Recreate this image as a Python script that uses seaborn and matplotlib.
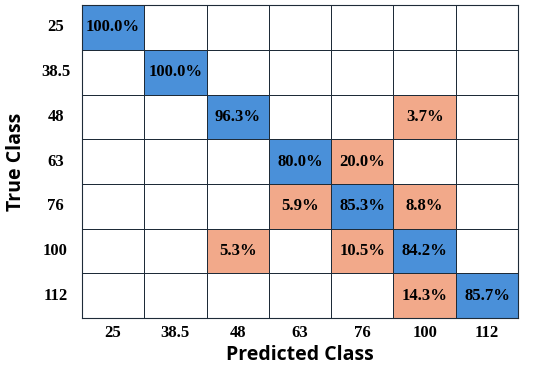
import numpy as np
import pandas as pd
import matplotlib.pyplot as plt
import seaborn as sns
from matplotlib.colors import ListedColormap

# Class labels (true rows, predicted columns)
classes = ['25', '38.5', '48', '63', '76', '100', '112']

# Percentages per row (0 = empty cell)
row_25 = [100.0, 0, 0, 0, 0, 0, 0]
row_38 = [0, 100.0, 0, 0, 0, 0, 0]
row_48 = [0, 0, 96.3, 0, 0, 3.7, 0]
row_63 = [0, 0, 0, 80.0, 20.0, 0, 0]
row_76 = [0, 0, 0, 5.9, 85.3, 8.8, 0]
row_100 = [0, 0, 5.3, 0, 10.5, 84.2, 0]
row_112 = [0, 0, 0, 0, 0, 14.3, 85.7]

cm = pd.DataFrame([row_25, row_38, row_48, row_63, row_76, row_100, row_112],
                  index=classes, columns=classes)

# colour category: 0 empty, 1 correct (diagonal), 2 misclassified
vals = cm.values
cat = np.where(vals == 0, 0, 2)
np.fill_diagonal(cat, np.where(np.diag(vals) > 0, 1, 0))
annot = np.where(vals > 0, np.char.add(np.char.mod('%.1f', vals), '%'), '')

cmap = ListedColormap(['white', '#4a90d9', '#f2a98a'])

fig = plt.figure(figsize=(5.5, 3.66), dpi=100)
ax = fig.add_axes([0.149, 0.131, 0.793, 0.855])
sns.heatmap(cat, cmap=cmap, vmin=0, vmax=2, cbar=False, annot=annot, fmt='',
            linewidths=0.7, linecolor='#1e2b38', ax=ax,
            annot_kws={'family': 'Liberation Serif', 'weight': 'bold',
                       'size': 12, 'color': 'black'},
            xticklabels=classes, yticklabels=classes)

for s in ax.spines.values():
    s.set_visible(True)
    s.set_color('#1e2b38')
    s.set_linewidth(0.8)

ax.tick_params(axis='x', length=0, pad=5)
ax.tick_params(axis='y', length=0, pad=19)
for lab in ax.get_xticklabels() + ax.get_yticklabels():
    lab.set_family('Liberation Serif')
    lab.set_weight('bold')
    lab.set_fontsize(12)
plt.setp(ax.get_yticklabels(), rotation=0, ha='center')
plt.setp(ax.get_xticklabels(), rotation=0)

ax.set_xlabel('Predicted Class', family='Open Sans', weight='bold', fontsize=14, labelpad=3)
ax.set_ylabel('True Class', family='Open Sans', weight='bold', fontsize=14, labelpad=11)

fig.savefig('out.png', dpi=100)
